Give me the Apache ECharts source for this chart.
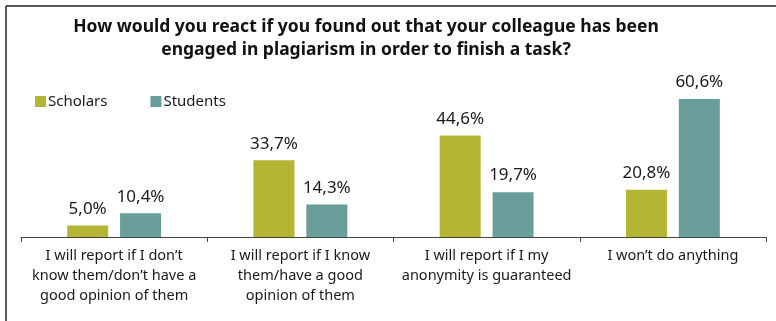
<!DOCTYPE html>
<html>
<head>
<meta charset="utf-8">
<script src="https://cdn.jsdelivr.net/npm/echarts@6/dist/echarts.min.js"></script>
<style>
  html, body { margin: 0; padding: 0; background: #fff; }
  #chart { width: 776px; height: 321px; }
</style>
</head>
<body>
<div id="chart"></div>
<script>
// Survey answers (category labels, pre-wrapped)
const categories = [
  "I will report if I don\u2019t\nknow them/don\u2019t have a\ngood opinion of them",
  "I will report if I know\nthem/have a good\nopinion of them",
  "I will report if I my\nanonymity is guaranteed",
  "I won\u2019t do anything"
];
// Share of respondents, in percent
const scholars = [5.0, 33.7, 44.6, 20.8];
const students = [10.4, 14.3, 19.7, 60.6];

const FONT = '"Noto Sans", "Open Sans", sans-serif';

const chart = echarts.init(document.getElementById('chart'), null, { renderer: 'canvas' });

const valueLabel = {
  show: true,
  position: 'top',
  distance: 8,
  fontFamily: FONT,
  fontSize: 17,
  color: '#1a1a1a',
  formatter: p => p.value.toFixed(1).replace('.', ',') + '%'
};

chart.setOption({
  animation: false,
  backgroundColor: '#ffffff',
  title: {
    text: 'How would you react if you found out that your colleague has been\nengaged in plagiarism in order to finish a task?',
    left: 361,
    top: 11,
    textAlign: 'center',
    textStyle: {
      fontFamily: FONT,
      fontWeight: 'bold',
      fontSize: 17.5,
      lineHeight: 23,
      color: '#111'
    }
  },
  legend: {
    left: 35,
    top: 94,
    padding: 0,
    icon: 'rect',
    itemWidth: 11,
    itemHeight: 11,
    itemGap: 43,
    textStyle: { fontFamily: FONT, fontSize: 15, color: '#1a1a1a', padding: [0, 0, 0, -3] },
    data: ['Scholars', 'Students']
  },
  graphic: [
    { type: 'line', shape: { x1: 6, y1: 6, x2: 776, y2: 6 }, style: { stroke: '#222', lineWidth: 1.5 } },
    { type: 'line', shape: { x1: 6, y1: 6, x2: 6, y2: 321 }, style: { stroke: '#222', lineWidth: 1.5 } }
  ],
  grid: { left: 21, right: 10, top: 77.6, bottom: 84, containLabel: false },
  xAxis: {
    type: 'category',
    data: categories,
    axisLine: { lineStyle: { color: '#444', width: 1 } },
    axisTick: { show: true, length: 5, lineStyle: { color: '#444' } },
    axisLabel: {
      interval: 0,
      margin: 9,
      fontFamily: FONT,
      fontSize: 14.5,
      lineHeight: 20,
      color: '#1a1a1a'
    }
  },
  yAxis: {
    type: 'value',
    min: 0,
    max: 70,
    show: false,
    splitLine: { show: false }
  },
  series: [
    {
      name: 'Scholars',
      type: 'bar',
      data: scholars,
      barWidth: 41,
      barGap: '29%',
      itemStyle: { color: '#b4b535' },
      label: valueLabel
    },
    {
      name: 'Students',
      type: 'bar',
      data: students,
      barWidth: 41,
      itemStyle: { color: '#6a9e9a' },
      label: valueLabel
    }
  ]
});
</script>
</body>
</html>
